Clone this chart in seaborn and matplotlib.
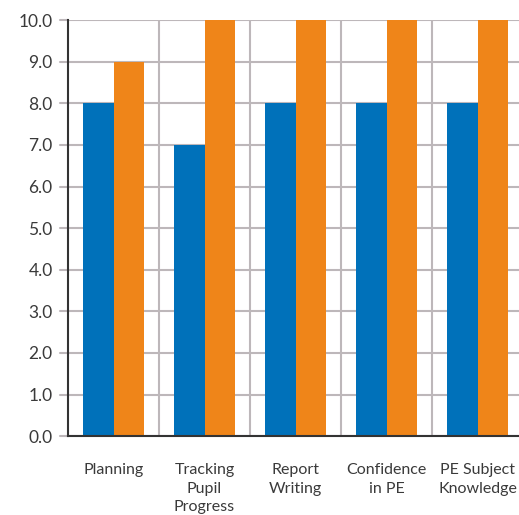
import matplotlib
matplotlib.use("Agg")
import matplotlib.pyplot as plt
import seaborn as sns
import pandas as pd
from matplotlib.ticker import MultipleLocator, FixedLocator

categories = ["Planning", "Tracking\nPupil\nProgress", "Report\nWriting",
              "Confidence\nin PE", "PE Subject\nKnowledge"]
series_names = ["Before", "After"]
before_values = [8.0, 7.0, 8.0, 8.0, 8.0]
after_values = [9.0, 10.0, 10.0, 10.0, 10.0]
colors = ["#0071BA", "#EF8519"]

df = pd.DataFrame({
    "category": categories * 2,
    "group": [series_names[0]] * len(categories) + [series_names[1]] * len(categories),
    "score": before_values + after_values,
})

sns.set_theme(style="white")
plt.rcParams["font.family"] = ["Lato", "DejaVu Sans"]

fig = plt.figure(figsize=(5.19, 5.15), dpi=100)
ax = fig.add_axes([0.131, 0.153, 0.877, 0.808])

sns.barplot(data=df, x="category", y="score", hue="group", order=categories,
            hue_order=series_names, palette=colors, width=0.67, saturation=1,
            linewidth=0, legend=False, ax=ax, zorder=3)

ax.set_ylim(0, 10)
ax.yaxis.set_major_locator(MultipleLocator(1))
ax.yaxis.set_major_formatter(matplotlib.ticker.FormatStrFormatter("%.1f"))
ax.xaxis.set_minor_locator(FixedLocator([i + 0.5 for i in range(len(categories))]))

grid_color = "#BDB7BA"
ax.grid(axis="y", which="major", color=grid_color, linewidth=1.5, zorder=0)
ax.grid(axis="x", which="minor", color=grid_color, linewidth=1.5, zorder=0)
ax.set_axisbelow(True)

for side in ["top", "right"]:
    ax.spines[side].set_visible(False)
for side in ["left", "bottom"]:
    ax.spines[side].set_color("#333333")
    ax.spines[side].set_linewidth(1.5)
    ax.spines[side].set_zorder(4)

ax.tick_params(axis="y", labelsize=12.5, colors="#3a3a3a", length=0, pad=11)
ax.tick_params(axis="x", which="major", labelsize=11.5, colors="#3a3a3a", length=0, pad=19)
ax.tick_params(axis="x", which="minor", length=0)
for lbl in ax.get_xticklabels():
    lbl.set_linespacing(1.45)

# short gridline stubs to the left of the value axis
for y in range(0, 11):
    ax.plot([-0.59, -0.5], [y, y], color=grid_color, linewidth=1.5, clip_on=False, zorder=1)
ax.set_xlim(-0.5, len(categories) - 0.5)

ax.set_xlabel("")
ax.set_ylabel("")

fig.savefig("out.png", dpi=100)
